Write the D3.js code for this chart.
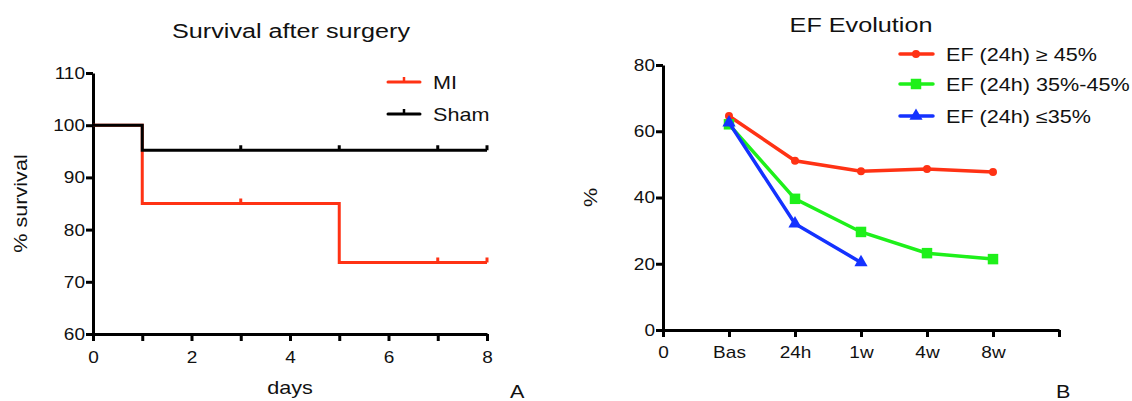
<!DOCTYPE html>
<html lang="en">
<head>
    <meta charset="UTF-8">
    <title>Survival and EF Evolution</title>
    <script src="https://d3js.org/d3.v7.min.js"></script>
    <style>
        body { margin: 0; background: #fff; }
        svg text { font-family: "Liberation Sans", Arial, sans-serif; fill: #111; }
        .axis path, .axis line { stroke: #000; stroke-width: 3px; }
        .axis text { font-size: 17px; }
    </style>
</head>
<body>
    <svg width="1132" height="401"></svg>

    <script>
        // Panel A - survival data (steps)
        const miDays = [0, 1, 5, 8];
        const miSurvival = [100, 85, 73.7, 73.7];
        const miCensored = [3, 7, 8];
        const shamDays = [0, 1, 8];
        const shamSurvival = [100, 95.2, 95.2];
        const shamCensored = [3, 5, 7, 8];
        const survivalTicks = [60, 70, 80, 90, 100, 110];
        const dayTicks = [0, 1, 2, 3, 4, 5, 6, 7, 8];

        // Panel B - EF data
        const efCategories = ['0', 'Bas', '24h', '1w', '4w', '8w', ''];
        const efHigh = [64.6, 51.1, 47.9, 48.6, 47.7];
        const efMid = [62.1, 39.6, 29.6, 23.2, 21.4];
        const efLow = [62.6, 32.1, 20.4];
        const efTicks = [0, 20, 40, 60, 80];

        const red = '#ff3214';
        const green = '#1ef01a';
        const blue = '#1432ff';
        const WIDE = 1.2; // the original lettering is wider than Liberation Sans

        const svg = d3.select('svg');

        // widen text horizontally in its own frame
        function widen(sel, rot, k) {
            sel.each(function() {
                const t = d3.select(this);
                const x = +t.attr('x') || 0;
                const y = +t.attr('y') || 0;
                t.attr('x', null).attr('y', null)
                    .attr('transform', `translate(${x},${y})${rot ? ` rotate(${rot})` : ''} scale(${k || WIDE},1)`);
            });
        }

        function label(x, y, txt, size, anchor, rot) {
            svg.append('text')
                .attr('x', x).attr('y', y)
                .attr('text-anchor', anchor || 'start')
                .style('font-size', size + 'px')
                .text(txt)
                .call(widen, rot);
        }

        // ---------- Panel A ----------
        const xA = d3.scaleLinear().domain([0, 8]).range([93, 487]);
        const yA = d3.scaleLinear().domain([60, 110]).range([334, 73]);

        svg.append('g')
            .attr('class', 'axis')
            .attr('transform', `translate(0,${yA(60)})`)
            .call(d3.axisBottom(xA).tickValues(dayTicks).tickSize(7).tickSizeOuter(0)
                .tickFormat(d => d % 2 === 0 ? d : ''))
            .call(g => g.selectAll('text').attr('dy', '1.1em').call(widen, 0, 1.12));

        svg.append('g')
            .attr('class', 'axis')
            .attr('transform', `translate(${xA(0)},0)`)
            .call(d3.axisLeft(yA).tickValues(survivalTicks).tickSize(7).tickSizeOuter(0).tickPadding(1))
            .call(g => g.selectAll('text').call(widen, 0, 1.12));

        const stepLine = d3.line()
            .x(d => xA(d[0]))
            .y(d => yA(d[1]))
            .curve(d3.curveStepAfter);

        function drawSurvival(days, values, censored, color) {
            const pts = days.map((d, i) => [d, values[i]]);
            svg.append('path')
                .datum(pts)
                .attr('d', stepLine)
                .attr('fill', 'none')
                .attr('stroke', color)
                .attr('stroke-width', 3);

            const levelAt = t => {
                let v = values[0];
                days.forEach((d, i) => { if (d <= t) v = values[i]; });
                return v;
            };
            svg.selectAll(null)
                .data(censored)
                .enter()
                .append('line')
                .attr('x1', d => xA(d))
                .attr('x2', d => xA(d))
                .attr('y1', d => yA(levelAt(d)))
                .attr('y2', d => yA(levelAt(d)) - 5)
                .attr('stroke', color)
                .attr('stroke-width', 3);
        }

        drawSurvival(miDays, miSurvival, miCensored, red);
        drawSurvival(shamDays, shamSurvival, shamCensored, '#000');

        label(291, 38, 'Survival after surgery', 21, 'middle');
        label(27, yA(85), '% survival', 18, 'middle', -90);
        label(290, 394, 'days', 18, 'middle');
        label(510, 398, 'A', 18);

        // legend A
        const legA = [
            { name: 'MI', color: red, y: 82 },
            { name: 'Sham', color: '#000', y: 114 }
        ];
        legA.forEach(d => {
            svg.append('line')
                .attr('x1', 388).attr('x2', 420)
                .attr('y1', d.y).attr('y2', d.y)
                .attr('stroke', d.color).attr('stroke-width', 3)
                .attr('stroke-linecap', 'round');
            svg.append('line')
                .attr('x1', 404).attr('x2', 404)
                .attr('y1', d.y).attr('y2', d.y - 5)
                .attr('stroke', d.color).attr('stroke-width', 2.5);
            label(433, d.y + 6.5, d.name, 18);
        });

        // ---------- Panel B ----------
        const xB = d3.scaleLinear().domain([0, 6]).range([663, 1059]);
        const yB = d3.scaleLinear().domain([0, 80]).range([330, 65]);

        svg.append('g')
            .attr('class', 'axis')
            .attr('transform', `translate(0,${yB(0)})`)
            .call(d3.axisBottom(xB).tickValues(d3.range(7)).tickSize(7).tickSizeOuter(0)
                .tickFormat(i => efCategories[i]))
            .call(g => g.selectAll('text').attr('dy', '1.05em').call(widen, 0, 1.12));

        svg.append('g')
            .attr('class', 'axis')
            .attr('transform', `translate(${xB(0)},0)`)
            .call(d3.axisLeft(yB).tickValues(efTicks).tickSize(7).tickSizeOuter(0).tickPadding(1))
            .call(g => g.selectAll('text').call(widen, 0, 1.12));

        const efLine = d3.line()
            .x((d, i) => xB(i + 1))
            .y(d => yB(d));

        function drawSeries(values, color, shape, size) {
            svg.append('path')
                .datum(values)
                .attr('d', efLine)
                .attr('fill', 'none')
                .attr('stroke', color)
                .attr('stroke-width', 3.5);
            svg.selectAll(null)
                .data(values)
                .enter()
                .append('path')
                .attr('transform', (d, i) => `translate(${xB(i + 1)},${yB(d)})`)
                .attr('d', d3.symbol().type(shape).size(size))
                .attr('fill', color);
        }

        drawSeries(efHigh, red, d3.symbolCircle, 50);
        drawSeries(efMid, green, d3.symbolSquare, 110);
        drawSeries(efLow, blue, d3.symbolTriangle, 75);

        label(861, 32, 'EF Evolution', 21, 'middle');
        label(597, yB(40), '%', 18, 'middle', -90);
        label(1056, 398, 'B', 18);

        // legend B
        const legB = [
            { name: 'EF (24h) \u2265 45%', color: red, shape: d3.symbolCircle, size: 50, y: 54 },
            { name: 'EF (24h) 35%-45%', color: green, shape: d3.symbolSquare, size: 110, y: 84 },
            { name: 'EF (24h) \u226435%', color: blue, shape: d3.symbolTriangle, size: 75, y: 116 }
        ];
        legB.forEach(d => {
            svg.append('line')
                .attr('x1', 900).attr('x2', 933)
                .attr('y1', d.y).attr('y2', d.y)
                .attr('stroke', d.color).attr('stroke-width', 3.5)
                .attr('stroke-linecap', 'round');
            svg.append('path')
                .attr('transform', `translate(916,${d.y})`)
                .attr('d', d3.symbol().type(d.shape).size(d.size))
                .attr('fill', d.color);
            label(946, d.y + 7, d.name, 18);
        });
    </script>
</body>
</html>
